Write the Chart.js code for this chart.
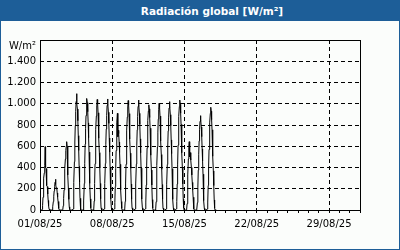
<!DOCTYPE html>
<html>
<head>
<meta charset="utf-8">
<script src="https://cdn.jsdelivr.net/npm/chart.js@4"></script>
<style>
  html, body { margin: 0; padding: 0; }
  #frame {
    position: relative;
    width: 400px; height: 250px;
    box-sizing: border-box;
    border: 1px solid #1d5e98;
    background: #fbfdfb;
    overflow: hidden;
  }
  #title {
    position: absolute; left: 0; top: 0; width: 398px; height: 20px;
    background: #1d5e98; color: #fff;
    font: bold 10.5px "DejaVu Sans", sans-serif;
    line-height: 20px; text-align: center; padding-left: 24px; box-sizing: border-box;
  }
  #unit {
    position: absolute; left: 0; width: 35px; top: 39px;
    font: 10px "DejaVu Sans", sans-serif; text-align: right; color: #000;
  }
  canvas { position: absolute; left: -1px; top: -1px; }
</style>
</head>
<body>
<div id="frame">
  <canvas id="chart" width="400" height="250"></canvas>
  <div id="title">Radiación global [W/m²]</div>
  <div id="unit">W/m²</div>
</div>
<script>
// hourly values (W/m²), one row per day starting 01/08/25 00:00
const radiacion = [
  [0,0,0,0,0,5,40,120,200,300,350,420,596,400,390,300,230,220,150,90,40,10,0,0],               // 01/08
  [0,0,0,0,0,5,30,80,130,180,220,260,289,240,200,210,160,120,80,40,15,0,0,0],                    // 02/08
  [0,0,0,0,0,5,40,110,190,290,390,480,560,600,643,600,480,330,200,100,30,5,0,0],                 // 03/08
  [0,0,0,0,0,10,90,260,455,640,795,925,1020,1095,1000,950,840,700,560,410,260,110,20,0],         // 04/08
  [0,0,0,0,0,10,85,250,440,620,765,890,990,1050,1010,925,820,680,545,400,250,105,20,0],          // 05/08
  [0,0,0,0,0,10,85,250,435,615,760,885,980,1040,1000,915,810,675,540,395,250,105,20,0],          // 06/08
  [0,0,0,0,0,10,85,250,438,618,762,888,985,1045,1005,920,815,678,543,398,250,105,20,0],          // 07/08
  [0,0,0,0,0,10,70,220,390,560,700,820,910,690,750,720,640,540,430,310,190,80,15,0],             // 08/08
  [0,0,0,0,0,10,80,245,430,608,752,876,970,1030,990,907,803,668,535,392,245,100,20,0],           // 09/08
  [0,0,0,0,0,10,80,245,432,610,755,880,975,1035,995,910,806,670,538,394,246,102,20,0],           // 10/08
  [0,0,0,0,0,10,75,235,415,585,722,842,932,990,952,870,770,640,515,376,235,98,18,0],             // 11/08
  [0,0,0,0,0,10,78,240,420,593,733,855,945,1005,965,884,782,650,522,382,240,100,18,0],           // 12/08
  [0,0,0,0,0,10,80,243,428,602,745,867,960,1020,980,897,794,660,530,388,243,100,18,0],           // 13/08
  [0,0,0,0,0,10,80,245,432,610,755,880,975,1035,995,910,806,670,538,394,246,102,20,0],           // 14/08
  [0,0,0,0,0,8,60,180,330,480,590,643,500,540,510,470,400,330,260,190,120,50,10,0],              // 15/08
  [0,0,0,0,0,8,70,215,375,525,650,755,835,888,855,780,690,575,460,337,210,88,16,0],              // 16/08
  [0,0,0,0,0,8,75,230,405,570,705,820,910,967,930,850,755,628,505,368,230,95,17,0],              // 17/08
  [0,0,0]                                                                                          // 18/08
];

const xTickLabels = ['01/08/25', '08/08/25', '15/08/25', '22/08/25', '29/08/25'];
const yTicks = [0, 200, 400, 600, 800, 1000, 1200, 1400];

const points = [];
radiacion.forEach((day, d) => {
  day.forEach((v, h) => points.push({ x: d + h / 24, y: v }));
});

const fmt = v => String(v).replace(/\B(?=(\d{3})+(?!\d))/g, '.');
const font = { family: 'DejaVu Sans', size: 10 };

const frameBox = {
  id: 'frameBox',
  afterDraw(chart) {
    const a = chart.chartArea;
    const c = chart.ctx;
    c.save();
    c.strokeStyle = '#000';
    c.lineWidth = 1;
    c.strokeRect(Math.round(a.left) + 0.5, Math.round(a.top) + 0.5,
      Math.round(a.right - a.left), Math.round(a.bottom - a.top));
    c.restore();
  }
};

new Chart(document.getElementById('chart'), {
  type: 'line',
  data: {
    datasets: [{
      data: points,
      borderColor: '#000',
      borderWidth: 1,
      pointRadius: 0,
      tension: 0
    }]
  },
  options: {
    responsive: false,
    animation: false,
    events: [],
    layout: { padding: { left: 0, top: 40, right: 40, bottom: 10 } },
    plugins: { legend: { display: false }, tooltip: { enabled: false } },
    scales: {
      x: {
        type: 'linear',
        min: 0,
        max: 31,
        afterFit: s => { s.height = 30; },
        ticks: {
          stepSize: 1,
          autoSkip: false,
          maxRotation: 0,
          padding: 5,
          color: '#000',
          font: font,
          callback: v => (v % 7 === 0 && v / 7 < xTickLabels.length) ? xTickLabels[v / 7] : ''
        },
        grid: {
          color: c => (c.tick && c.tick.value % 7 === 0 && c.tick.value > 0 && c.tick.value < 31) ? '#000' : 'rgba(0,0,0,0)',
          tickColor: '#000',
          tickLength: 3,
          tickBorderDash: []
        },
        border: { display: false, dash: [4, 3] }
      },
      y: {
        min: 0,
        max: 1600,
        afterFit: s => { s.width = 40; },
        afterBuildTicks: s => { s.ticks = yTicks.concat([1600]).map(v => ({ value: v })); },
        ticks: {
          padding: 4,
          color: '#000',
          font: font,
          callback: v => v === 1600 ? '' : fmt(v)
        },
        grid: {
          color: c => (c.tick && c.tick.value > 0 && c.tick.value < 1600) ? '#000' : 'rgba(0,0,0,0)',
          drawTicks: false
        },
        border: { display: false, dash: [4, 3] }
      }
    }
  },
  plugins: [frameBox]
});
</script>
</body>
</html>
